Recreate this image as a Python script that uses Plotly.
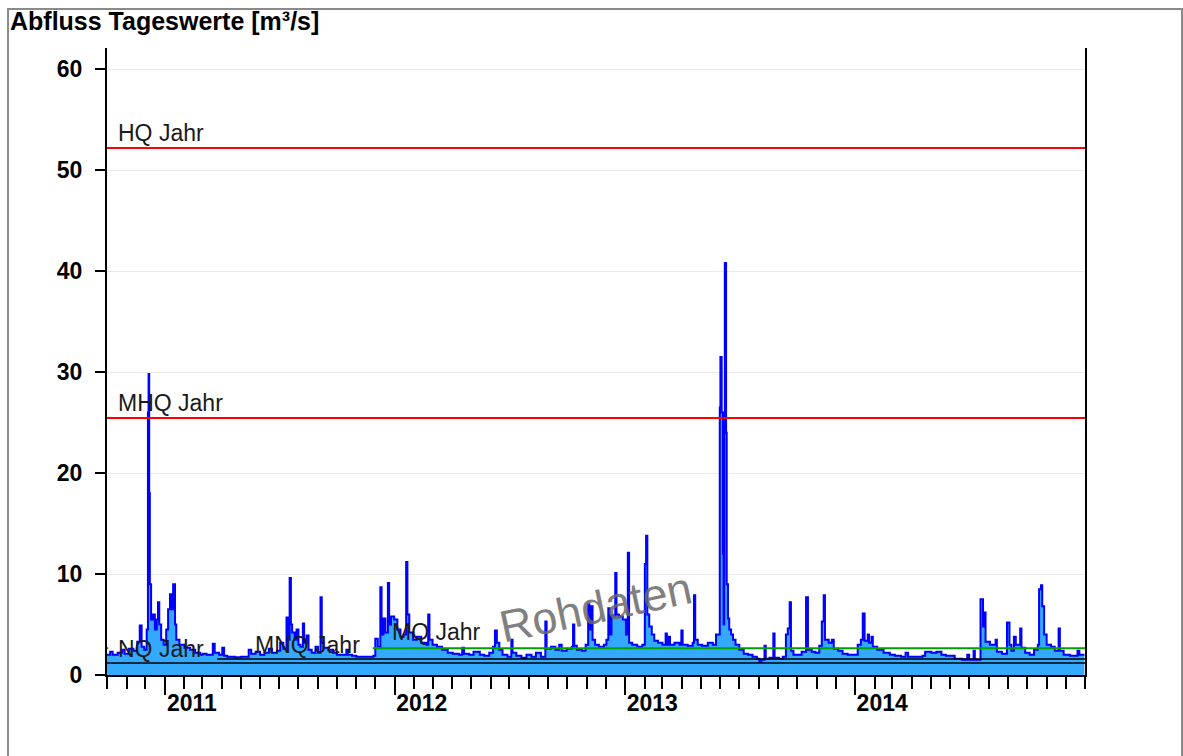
import plotly.graph_objects as go

# ---------------- data (daily discharge) ----------------
dates_a = ["2010-10-01","2010-10-06","2010-10-10","2010-10-18","2010-10-25","2010-10-29",
           "2010-11-05","2010-11-12","2010-11-18","2010-11-22","2010-11-25","2010-11-29",
           "2010-12-03","2010-12-05","2010-12-06","2010-12-07","2010-12-08","2010-12-10",
           "2010-12-13","2010-12-16","2010-12-19","2010-12-21","2010-12-23","2010-12-26",
           "2010-12-30","2011-01-03","2011-01-06","2011-01-09","2011-01-11","2011-01-14",
           "2011-01-17","2011-01-19","2011-01-24","2011-02-01","2011-02-10","2011-02-18",
           "2011-02-26","2011-03-02","2011-03-08","2011-03-18","2011-03-21","2011-03-28",
           "2011-04-02","2011-04-05","2011-04-10","2011-04-22","2011-05-02","2011-05-14",
           "2011-05-18","2011-05-25","2011-06-01","2011-06-08","2011-06-15","2011-06-20",
           "2011-06-28","2011-07-03","2011-07-08","2011-07-13","2011-07-15","2011-07-18",
           "2011-07-20","2011-07-22","2011-07-26","2011-07-29","2011-08-01","2011-08-04",
           "2011-08-08","2011-08-10","2011-08-14","2011-08-17","2011-08-22","2011-08-28",
           "2011-09-01","2011-09-05","2011-09-07","2011-09-10","2011-09-18","2011-09-25",
           "2011-10-01","2011-10-14","2011-10-16","2011-10-19","2011-10-25"]
flow_a = [2.0, 2.3, 2.0, 2.2, 2.5, 2.1,
          2.6, 2.4, 3.3, 4.9, 2.8, 2.5,
          4.5, 26.0, 29.8, 18.0, 9.0, 5.5,
          6.0, 4.5, 5.5, 7.2, 5.0, 3.5,
          3.0, 4.5, 6.5, 8.0, 6.5, 9.0,
          5.0, 3.5, 3.0, 2.7, 2.5, 2.2,
          2.0, 2.1, 2.0, 3.1, 2.2, 2.0,
          2.7, 1.9, 1.8, 1.75, 1.8, 2.5,
          2.1, 2.3, 2.0, 2.2, 2.6, 2.2,
          2.4, 3.2, 2.6, 5.7, 3.5, 9.6,
          5.0, 4.2, 3.5, 4.5, 3.0, 2.8,
          5.1, 3.2, 3.9, 2.5, 2.2, 2.8,
          2.2, 7.7, 3.2, 2.7, 2.5, 2.2,
          2.0, 2.0, 2.5, 2.0, 1.9]

dates_b = ["2011-11-01","2011-11-15","2011-11-28","2011-12-01","2011-12-05","2011-12-09",
           "2011-12-11","2011-12-14","2011-12-17","2011-12-21","2011-12-23","2011-12-26",
           "2011-12-31","2012-01-05","2012-01-10","2012-01-15","2012-01-19","2012-01-21",
           "2012-01-24","2012-01-30","2012-02-05","2012-02-12","2012-02-20","2012-02-23",
           "2012-02-25","2012-03-01","2012-03-08","2012-03-16","2012-03-25","2012-04-02",
           "2012-04-12","2012-04-17","2012-04-20","2012-04-28","2012-05-05","2012-05-15",
           "2012-05-22","2012-05-30","2012-06-05","2012-06-08","2012-06-11","2012-06-15",
           "2012-06-20","2012-06-28","2012-07-04","2012-07-06","2012-07-12","2012-07-20",
           "2012-07-28","2012-08-05","2012-08-12","2012-08-20","2012-08-27","2012-08-29",
           "2012-09-05","2012-09-12","2012-09-18","2012-09-22","2012-09-30","2012-10-08",
           "2012-10-10","2012-10-12","2012-10-16","2012-10-24","2012-10-30"]
flow_b = [1.8, 1.8, 1.9, 3.6, 2.8, 8.7,
          4.0, 5.6, 4.2, 9.1, 5.0, 5.8,
          5.5, 4.5, 3.8, 4.0, 11.2, 6.0,
          4.2, 3.5, 3.8, 3.2, 3.0, 6.0,
          3.5, 3.0, 2.8, 2.5, 2.2, 2.1,
          2.0, 2.7, 2.1, 2.0, 2.3, 2.0,
          1.9, 2.2, 2.8, 4.4, 3.2, 2.5,
          2.0, 1.8, 3.5, 2.2, 1.9, 1.7,
          2.0, 1.8, 2.2, 1.8, 5.3, 2.6,
          2.8, 2.5, 3.0, 2.4, 2.6, 2.8,
          5.0, 2.9, 2.5, 2.4, 3.0]

dates_c = ["2012-11-03","2012-11-05","2012-11-08","2012-11-10","2012-11-14","2012-11-20",
           "2012-11-28","2012-12-02","2012-12-05","2012-12-07","2012-12-10","2012-12-16",
           "2012-12-18","2012-12-22","2012-12-28","2013-01-02","2013-01-05","2013-01-07",
           "2013-01-12","2013-01-20","2013-01-28","2013-02-01","2013-02-03","2013-02-05",
           "2013-02-08","2013-02-12","2013-02-16","2013-02-22","2013-03-01","2013-03-06",
           "2013-03-08","2013-03-11","2013-03-13","2013-03-20","2013-03-28","2013-03-31",
           "2013-04-02","2013-04-10","2013-04-18","2013-04-20","2013-04-22","2013-04-26",
           "2013-05-03","2013-05-12","2013-05-20","2013-05-25","2013-05-31","2013-06-01",
           "2013-06-03","2013-06-05","2013-06-06","2013-06-07","2013-06-08","2013-06-10",
           "2013-06-11","2013-06-13","2013-06-15","2013-06-18","2013-06-21","2013-06-25",
           "2013-07-01","2013-07-08","2013-07-15","2013-07-22","2013-07-29","2013-08-02",
           "2013-08-05","2013-08-10","2013-08-12","2013-08-18","2013-08-24","2013-08-26",
           "2013-09-02","2013-09-08","2013-09-13","2013-09-16","2013-09-19","2013-09-21",
           "2013-09-25","2013-10-02","2013-10-08","2013-10-15","2013-10-18","2013-10-24",
           "2013-10-30"]
flow_c = [7.0, 4.5, 6.8, 3.5, 3.0, 2.8,
          3.0, 3.5, 6.6, 4.0, 5.9, 10.1,
          6.0, 5.8, 5.5, 4.0, 12.1, 3.2,
          3.0, 2.8, 3.0, 11.0, 13.8, 6.0,
          4.8, 4.0, 3.4, 3.2, 3.0, 4.1,
          3.0, 3.8, 3.0, 3.2, 3.0, 4.4,
          3.0, 2.9, 3.2, 7.9, 3.5, 3.0,
          2.9, 3.2, 3.0, 4.0, 26.5, 31.5,
          26.0, 12.0, 5.0, 24.0, 40.8, 24.0,
          9.0, 5.6, 4.5, 4.0, 3.5, 3.0,
          2.5, 2.1, 2.0, 1.8, 1.6, 1.3,
          1.5, 2.9, 1.6, 1.7, 4.1, 1.7,
          1.6, 1.8, 4.0, 4.6, 7.2, 2.4,
          2.0, 2.0, 2.3, 7.7, 2.5, 2.3,
          2.2]

dates_d = ["2013-11-05","2013-11-09","2013-11-12","2013-11-14","2013-11-20","2013-11-25",
           "2013-11-28","2013-12-05","2013-12-12","2013-12-20","2013-12-28","2014-01-05",
           "2014-01-10","2014-01-13","2014-01-16","2014-01-21","2014-01-23","2014-01-27",
           "2014-01-29","2014-02-05","2014-02-15","2014-02-25","2014-03-05","2014-03-15",
           "2014-03-22","2014-03-26","2014-04-05","2014-04-18","2014-04-22","2014-05-02",
           "2014-05-10","2014-05-18","2014-05-25","2014-06-03","2014-06-08","2014-06-20",
           "2014-06-28","2014-07-01","2014-07-08","2014-07-10","2014-07-19","2014-07-23",
           "2014-07-25","2014-07-27","2014-08-03","2014-08-12","2014-08-14","2014-08-22",
           "2014-08-30","2014-09-03","2014-09-06","2014-09-10","2014-09-13","2014-09-20",
           "2014-09-22","2014-09-28","2014-10-05","2014-10-12","2014-10-18","2014-10-20",
           "2014-10-23","2014-10-25","2014-10-28","2014-11-01","2014-11-08","2014-11-14",
           "2014-11-20","2014-11-22","2014-11-28","2014-12-08","2014-12-20","2014-12-23",
           "2014-12-31"]
flow_d = [2.9, 5.3, 7.9, 3.5, 3.2, 3.5,
          2.6, 2.4, 2.1, 2.0, 2.0, 3.0,
          3.5, 6.1, 3.4, 4.0, 3.2, 3.8,
          2.8, 2.5, 2.2, 2.0, 1.9, 1.8,
          2.2, 1.8, 1.8, 1.9, 2.3, 2.2,
          2.3, 2.0, 1.9, 1.9, 1.6, 1.5,
          2.0, 1.5, 2.4, 1.5, 7.5, 4.8,
          6.2, 3.3, 3.0, 3.5, 2.3, 2.1,
          5.2, 3.0, 2.4, 3.8, 3.0, 4.6,
          2.7, 2.2, 2.0, 2.5, 3.0, 8.5,
          8.9, 6.8, 4.0, 3.0, 2.8, 2.4,
          4.6, 2.4, 2.0, 1.9, 2.4, 2.0,
          2.0]

# characteristic values [m³/s]
ref_names = ["HQ Jahr", "MHQ Jahr", "MQ Jahr", "MNQ Jahr", "NQ Jahr"]
ref_values = [52.2, 25.45, 2.65, 1.58, 1.19]
mq_periods = [("2010-10-01", "2010-10-03"), ("2011-11-27", "2015-01-01")]
mnq_period = ("2011-03-25", "2015-01-01")

x_range = ["2010-10-01", "2014-12-31 22:00"]
year_ticks = ["2011-01-01", "2012-01-01", "2013-01-01", "2014-01-01"]
year_labels = ["2011", "2012", "2013", "2014"]
y_ticks = [0, 10, 20, 30, 40, 50, 60]

dates = dates_a + dates_b + dates_c + dates_d
flow = flow_a + flow_b + flow_c + flow_d

# ---------------- figure ----------------
W, H = 1183, 756
ML, MR, MT, MB = 107, 98, 48, 81
PW, PH = W - ML - MR, H - MT - MB


def px_x(px):
    return (px - ML) / PW


def px_y(py):
    return (H - MB - py) / PH


fig = go.Figure()
fig.add_trace(go.Scatter(
    x=dates, y=flow, mode="lines",
    line=dict(color="#0000ff", width=2, shape="hv"),
    fill="tozeroy", fillcolor="#33aaff",
    hoverinfo="x+y", showlegend=False,
))

shapes = []
for name, val in zip(ref_names, ref_values):
    if name in ("HQ Jahr", "MHQ Jahr"):
        shapes.append(dict(type="line", xref="paper", x0=0, x1=1, yref="y", y0=val, y1=val,
                           line=dict(color="#ff0000", width=2)))
    elif name == "NQ Jahr":
        shapes.append(dict(type="line", xref="paper", x0=0, x1=1, yref="y", y0=val, y1=val,
                           line=dict(color="#000000", width=1.5)))
    elif name == "MNQ Jahr":
        shapes.append(dict(type="line", xref="x", x0=mnq_period[0], x1=mnq_period[1],
                           yref="y", y0=val, y1=val, line=dict(color="#000000", width=1.5)))
    elif name == "MQ Jahr":
        for a, b in mq_periods:
            shapes.append(dict(type="line", xref="x", x0=a, x1=b, yref="y", y0=val, y1=val,
                               line=dict(color="#00a000", width=2)))

# outer frame
shapes.append(dict(type="rect", xref="paper", yref="paper",
                   x0=px_x(8), x1=px_x(1182), y0=px_y(762), y1=px_y(9),
                   line=dict(color="#8a8a8a", width=2), fillcolor="rgba(0,0,0,0)", layer="below"))

label_font = dict(family="Liberation Sans", size=23, color="#1a1a1a")
label_pos = {"HQ Jahr": (116, 133), "MHQ Jahr": (116, 403), "MQ Jahr": (390, 632),
             "MNQ Jahr": (253, 645), "NQ Jahr": (116, 649)}
annotations = []
for name in ref_names:
    lx, ly = label_pos[name]
    annotations.append(dict(text=name, xref="paper", yref="paper", x=px_x(lx), y=px_y(ly),
                            xanchor="left", yanchor="middle", showarrow=False, font=label_font))

annotations.append(dict(text="Abfluss Tageswerte [m³/s]", xref="paper", yref="paper",
                        x=px_x(8), y=px_y(21), xanchor="left", yanchor="middle", showarrow=False,
                        font=dict(family="Liberation Sans", size=25, color="#000000", weight="bold")))

annotations.append(dict(text="Rohdaten", xref="paper", yref="paper",
                        x=px_x(595), y=px_y(607), xanchor="center", yanchor="middle",
                        showarrow=False, textangle=-12,
                        font=dict(family="Liberation Sans", size=45, color="rgba(105,105,105,0.85)")))

fig.update_layout(
    width=W, height=H,
    margin=dict(l=ML, r=MR, t=MT, b=MB, pad=0),
    paper_bgcolor="white", plot_bgcolor="white",
    shapes=shapes, annotations=annotations,
    showlegend=False,
    xaxis=dict(
        type="date", range=x_range,
        tickmode="array", tickvals=year_ticks, ticktext=year_labels,
        ticks="outside", ticklen=18, tickwidth=2, tickcolor="black",
        ticklabelshift=27, ticklabelstandoff=-12,
        tickfont=dict(family="Liberation Sans", size=23, color="black", weight="bold"),
        showline=True, linecolor="black", linewidth=2, mirror=False,
        showgrid=False, zeroline=False,
        minor=dict(tickmode="linear", dtick="M1", tick0="2011-01-01", ticks="outside", ticklen=12,
                   tickwidth=2, tickcolor="black", showgrid=False),
    ),
    yaxis=dict(
        range=[0, 62.1], tickvals=y_ticks,
        ticks="outside", ticklen=10, tickwidth=1.5, tickcolor="black",
        ticklabelstandoff=8,
        tickfont=dict(family="Liberation Sans", size=23, color="black", weight="bold"),
        showline=True, linecolor="black", linewidth=2, mirror=True,
        showgrid=True, gridcolor="#ebebeb", gridwidth=1, zeroline=False,
    ),
)

fig.write_html("out.html", config={"displayModeBar": False},
               post_script="document.body.style.margin='0';")
